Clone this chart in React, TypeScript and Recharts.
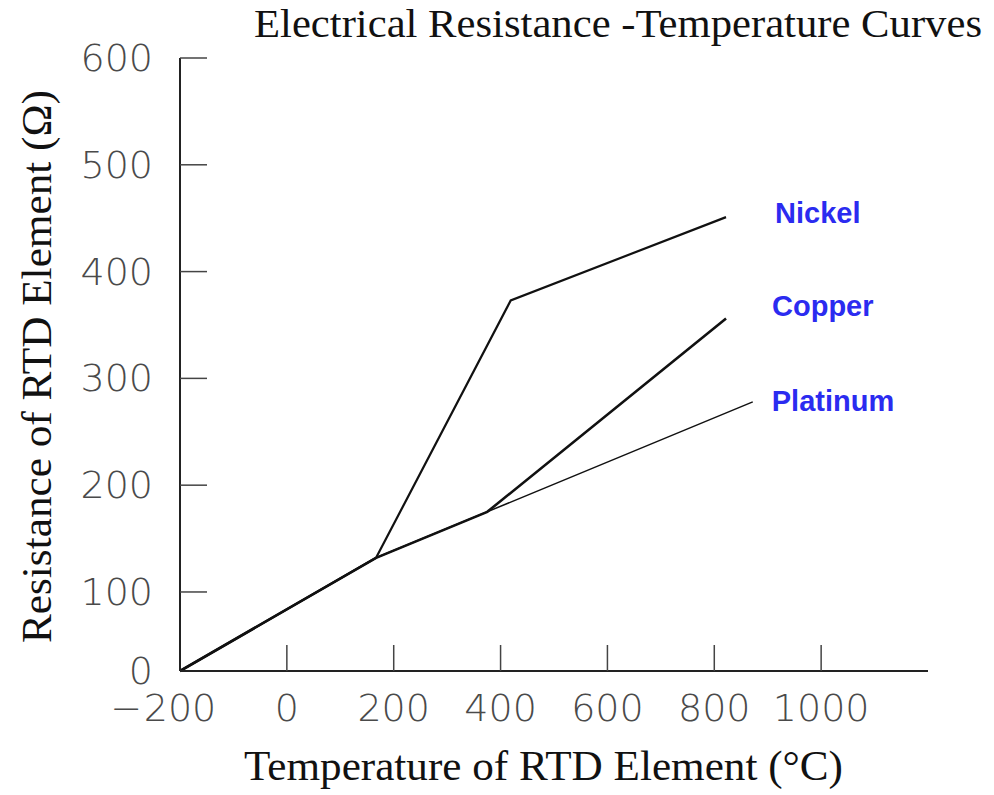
import React from "react";
import { LineChart, Line, XAxis, YAxis, LabelList } from "recharts";

const X_TICKS = [-200, 0, 200, 400, 600, 800, 1000];
const X_MAX = 1200;
// the drawn y axis bottoms out a little above zero, but it is labelled "0"
const Y_FLOOR = 26;
const Y_TICKS = [Y_FLOOR, 100, 200, 300, 400, 500, 600];
const Y_TICK_LABELS = ["0", "100", "200", "300", "400", "500", "600"];

const platinumData = [
  { t: -200, r: 26 },
  { t: 167, r: 132 },
  { t: 872, r: 278 },
];

const copperData = [
  { t: -200, r: 26 },
  { t: 167, r: 132 },
  { t: 375, r: 175 },
  { t: 822, r: 356 },
];

const nickelData = [
  { t: -200, r: 26 },
  { t: 167, r: 132 },
  { t: 419, r: 373 },
  { t: 822, r: 451 },
];

const SERIES = [
  { name: "Platinum", data: platinumData, width: 1.5, dx: 19, dy: -1 },
  { name: "Copper", data: copperData, width: 2.6, dx: 46, dy: -13 },
  { name: "Nickel", data: nickelData, width: 2.2, dx: 49, dy: -4 },
];

const W = 994;
const H = 795;

const tickFont = {
  fontFamily: "'DejaVu Sans ExtraLight', 'DejaVu Sans', sans-serif",
  fontWeight: 200,
  fontSize: 38,
  fill: "#4a4a4a",
};
const serif = "'Liberation Serif', 'Times New Roman', serif";

function YTick(props: any) {
  const { x, y, payload } = props;
  const i = Y_TICKS.indexOf(payload.value);
  return (
    <g>
      {payload.value !== Y_FLOOR && (
        <line x1={x} x2={x + 27} y1={y} y2={y} stroke="#444" strokeWidth={1.5} />
      )}
      <text x={x - 27} y={y} textAnchor="end" dominantBaseline="central" {...tickFont}>
        {Y_TICK_LABELS[i]}
      </text>
    </g>
  );
}

function XTick(props: any) {
  const { x, y, payload } = props;
  const v = payload.value as number;
  return (
    <g>
      {v !== X_TICKS[0] && (
        <line x1={x} x2={x} y1={y} y2={y - 26} stroke="#444" strokeWidth={1.5} />
      )}
      <text x={x} y={y + 37} textAnchor="middle" dominantBaseline="central" {...tickFont}>
        {Math.abs(v)}
      </text>
      {v < 0 && (
        <text x={x - 38} y={y + 37} textAnchor="end" dominantBaseline="central" {...tickFont}>
          −
        </text>
      )}
    </g>
  );
}

export default function App() {
  return (
    <div style={{ position: "absolute", left: 0, top: 0, width: W, height: H, background: "#fff" }}>
      <LineChart width={W} height={H} margin={{ top: 58, right: 66, bottom: 0, left: 0 }}>
        <XAxis
          dataKey="t"
          type="number"
          domain={[X_TICKS[0], X_MAX]}
          ticks={X_TICKS}
          interval={0}
          height={124}
          tickSize={0}
          tickMargin={0}
          tickLine={false}
          tick={<XTick />}
          axisLine={{ stroke: "#222", strokeWidth: 2 }}
        />
        <YAxis
          type="number"
          domain={[Y_FLOOR, 600]}
          ticks={Y_TICKS}
          interval={0}
          width={180}
          tickSize={0}
          tickMargin={0}
          tickLine={false}
          tick={<YTick />}
          axisLine={{ stroke: "#222", strokeWidth: 2 }}
        />
        {SERIES.map((s) => (
          <Line
            key={s.name}
            data={s.data}
            dataKey="r"
            type="linear"
            dot={false}
            stroke="#111"
            strokeWidth={s.width}
            isAnimationActive={false}
          >
            <LabelList
              dataKey="r"
              content={(p: any) =>
                p.index === s.data.length - 1 ? (
                  <text
                    x={p.x + s.dx}
                    y={p.y + s.dy}
                    dominantBaseline="central"
                    fill="#2b2bf0"
                    fontFamily="'Liberation Sans', Arial, sans-serif"
                    fontWeight="bold"
                    fontSize={29}
                  >
                    {s.name}
                  </text>
                ) : null
              }
            />
          </Line>
        ))}
      </LineChart>
      <svg
        width={W}
        height={H}
        style={{ position: "absolute", left: 0, top: 0, pointerEvents: "none" }}
      >
        <text x={254} y={37} fontFamily={serif} fontSize={40} fill="#111" textLength={728} lengthAdjust="spacingAndGlyphs">
          Electrical Resistance -Temperature Curves
        </text>
        <text x={244} y={780} fontFamily={serif} fontSize={42} fill="#111" textLength={599} lengthAdjust="spacingAndGlyphs">
          Temperature of RTD Element (°C)
        </text>
        <text
          x={51}
          y={643}
          transform="rotate(-90, 51, 643)"
          fontFamily={serif}
          fontSize={42}
          fill="#111"
          textLength={553}
          lengthAdjust="spacingAndGlyphs"
        >
          Resistance of RTD Element (Ω)
        </text>
      </svg>
    </div>
  );
}
